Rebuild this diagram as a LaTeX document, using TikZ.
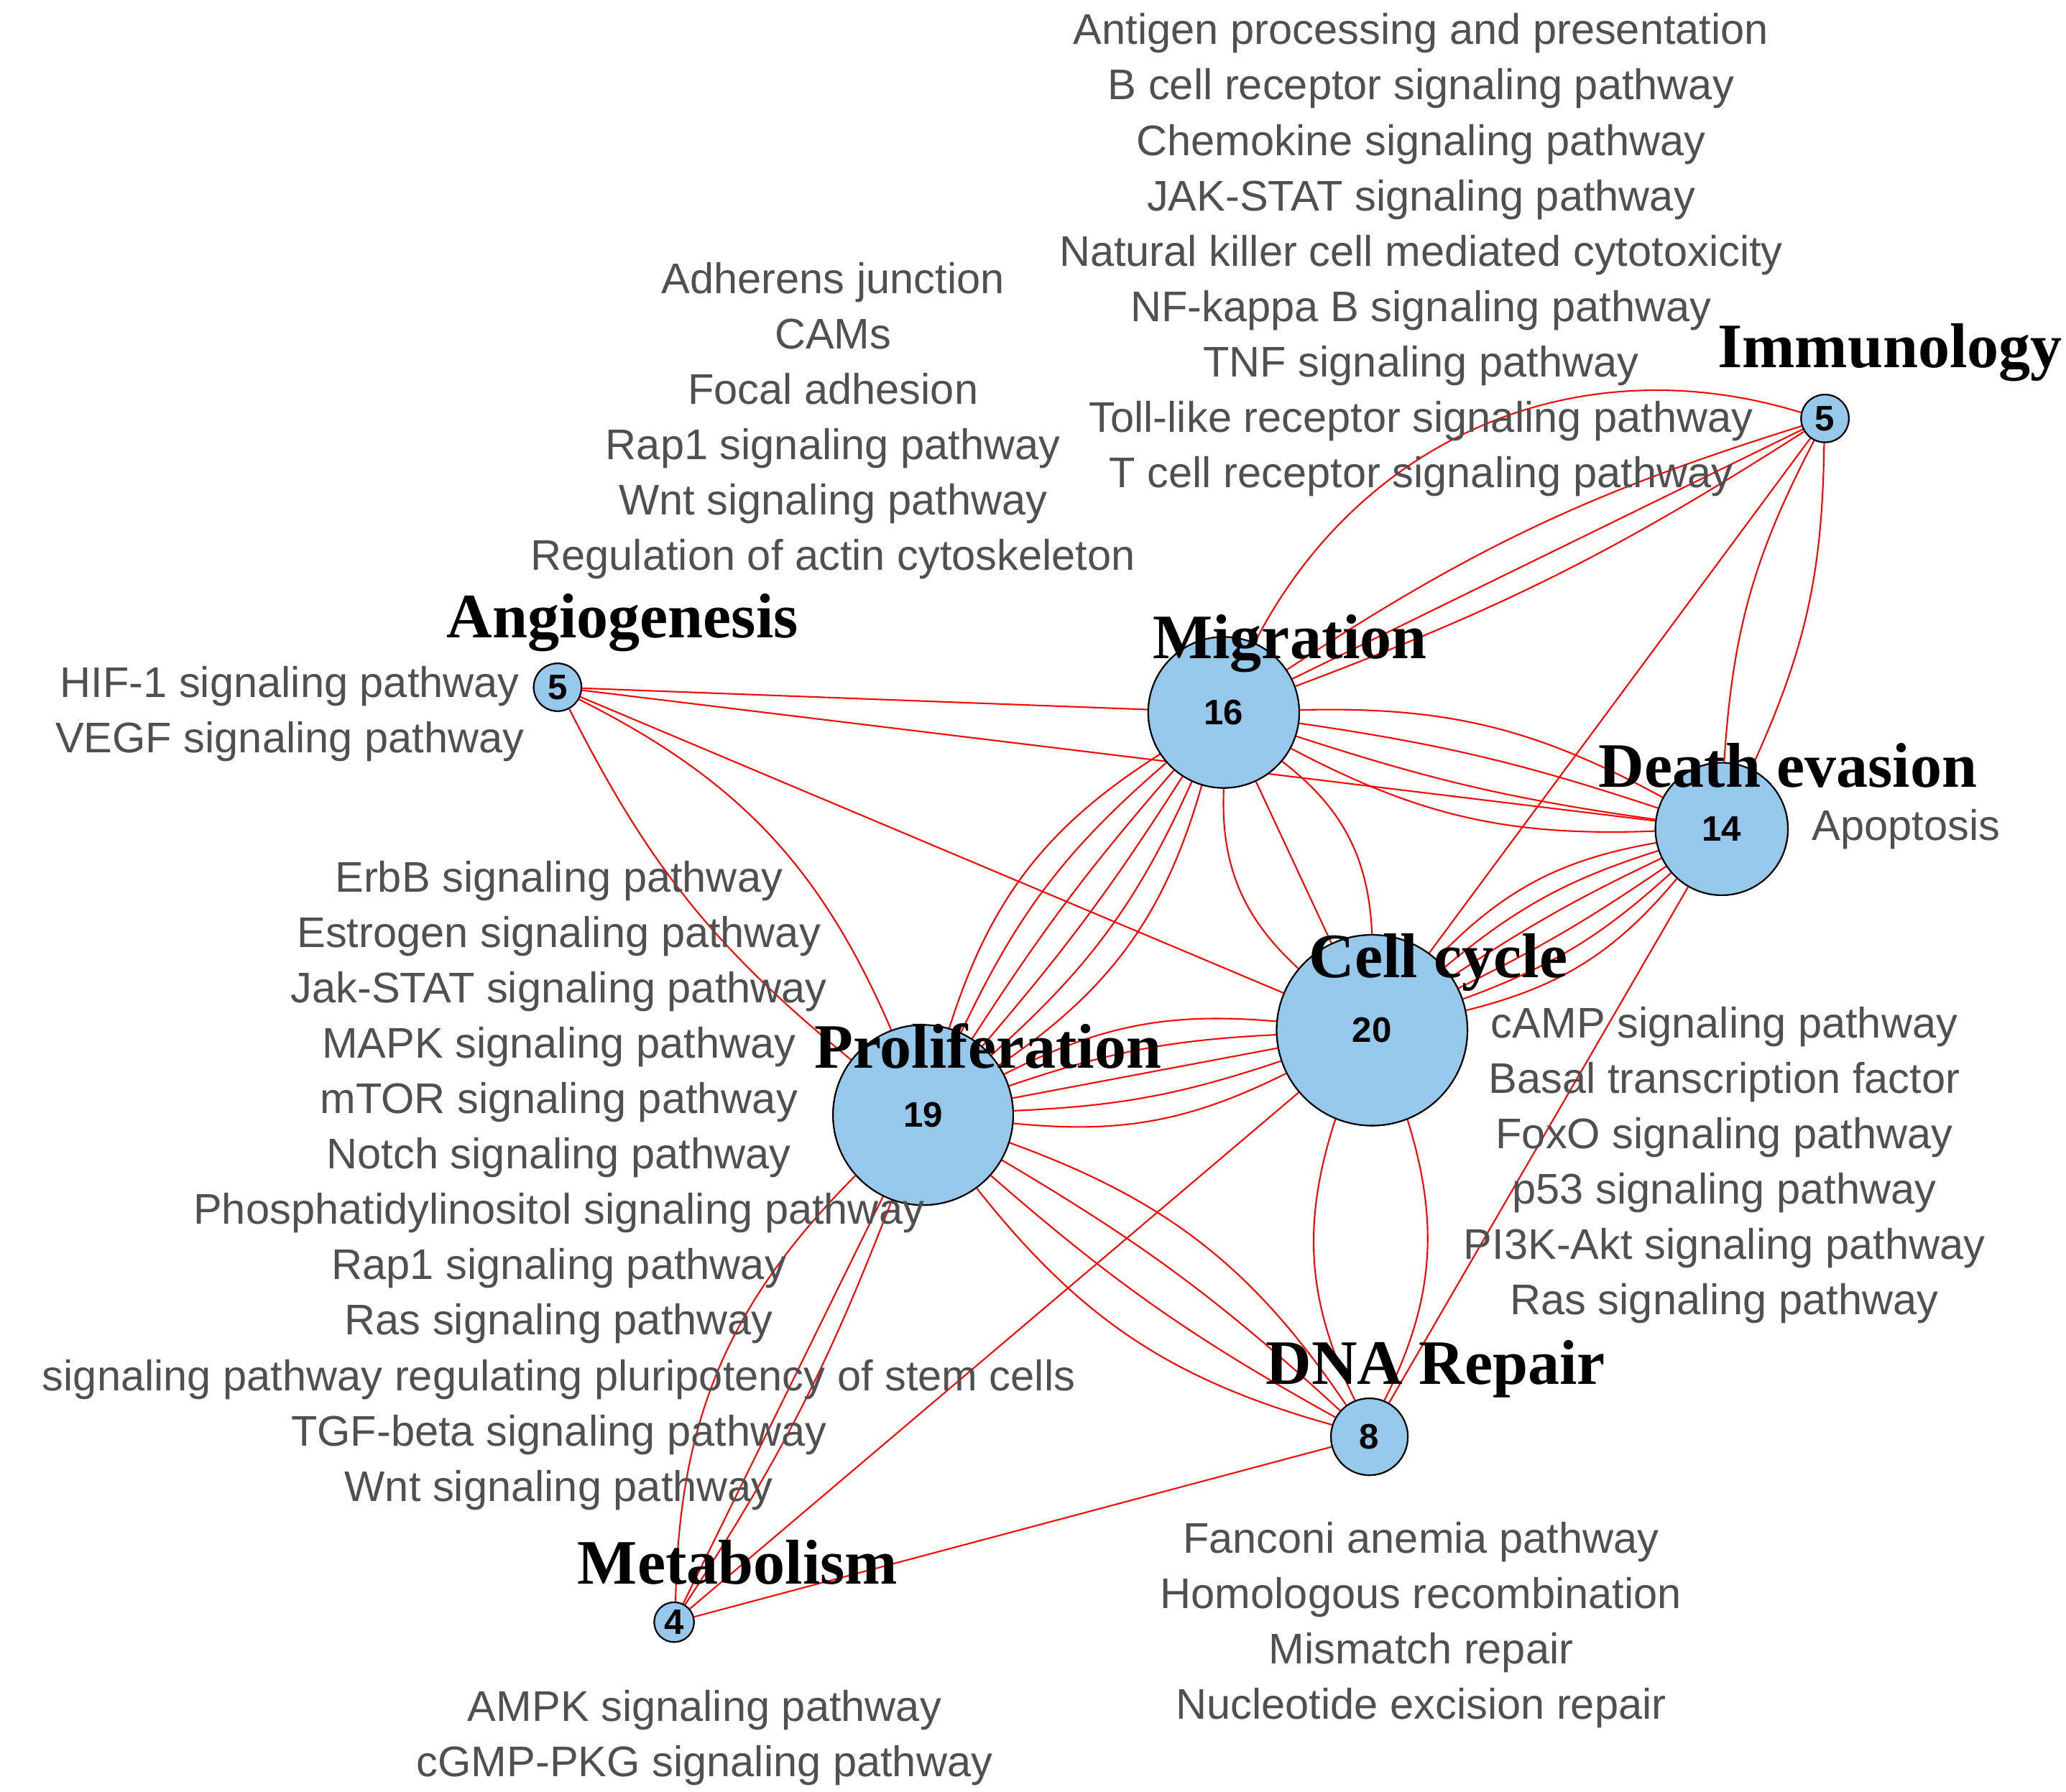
\documentclass[tikz,border=0pt]{standalone}
\usepackage{fontspec}
\setmainfont{Liberation Sans}
\newfontfamily\serifb{Liberation Serif}
\begin{document}
\begin{tikzpicture}[x=0.05cm,y=-0.05cm,
 nd/.style={circle,draw=black,line width=1.6pt,fill={rgb,255:red,150;green,200;blue,235},inner sep=0pt,font=\fontsize{38}{40}\selectfont\bfseries,minimum size=#1*0.05cm},
 ttl/.style={font=\serifb\fontsize{68}{70}\selectfont\bfseries},
 lab/.style={text={rgb,255:red,80;green,80;blue,80},font=\fontsize{46}{59.5}\selectfont,align=center,inner sep=0pt},
 e/.style={red,line width=1.6pt}]
\useasboundingbox (0,0) rectangle (1560,1353);
\node[nd=36] (im) at (1378,316) {};
\node[nd=36] (an) at (421,519) {};
\node[nd=114] (mi) at (924,538) {};
\node[nd=100] (de) at (1300,626) {};
\node[nd=144] (cc) at (1036,778) {};
\node[nd=136] (pr) at (697,842) {};
\node[nd=58] (dn) at (1034,1085) {};
\node[nd=30] (me) at (509,1225) {};
% edges
\draw[e] (im) to[bend right=40] (mi);
\foreach \b in {8,0,-6} \draw[e] (im) to[bend right=\b] (mi);
\draw[e] (im) to[bend right=12] (de);
\draw[e] (im) to[bend left=12] (de);
\draw[e] (im) -- (cc);
\draw[e] (an) -- (mi);
\draw[e] (an) -- (de);
\draw[e] (an) -- (cc);
\draw[e] (an) to[bend left=20] (pr);
\draw[e] (an) to[bend right=12] (pr);
\foreach \b in {-15,-5,5,15} \draw[e] (mi) to[bend left=\b] (de);
\foreach \b in {-25,0,25} \draw[e] (mi) to[bend left=\b] (cc);
\foreach \b in {-20,-12,-4,4,12,20} \draw[e] (mi) to[bend left=\b] (pr);
\foreach \b in {-18,-11,-4,4,11,18} \draw[e] (de) to[bend left=\b] (cc);
\draw[e] (de) -- (dn);
\foreach \b in {-16,-8,0,8,16} \draw[e] (cc) to[bend left=\b] (pr);
\draw[e] (cc) to[bend left=22] (dn);
\draw[e] (cc) to[bend right=22] (dn);
\draw[e] (cc) -- (me);
\foreach \b in {-18,-6,6,18} \draw[e] (pr) to[bend left=\b] (dn);
\draw[e] (pr) to[bend right=22] (me);
\draw[e] (pr) to[bend left=6] (me);
\draw[e] (pr) -- (me);
\draw[e] (dn) -- (me);
% redraw nodes on top
\node[nd=36] at (1378,316) {5};
\node[nd=36] at (421,519) {5};
\node[nd=114] at (924,538) {16};
\node[nd=100] at (1300,626) {14};
\node[nd=144] at (1036,778) {20};
\node[nd=136] at (697,842) {19};
\node[nd=58] at (1034,1085) {8};
\node[nd=30] at (509,1225) {4};
% titles
\node[ttl] (t1) at (1427,266) {Immunology};
\node[ttl] (t2) at (470,470) {Angiogenesis};
\node[ttl] (t3) at (974,486) {Migration};
\node[ttl] (t4) at (1350,578) {Death evasion};
\node[ttl] (t5) at (1086,727) {Cell cycle};
\node[ttl] (t6) at (746,790) {Proliferation};
\node[ttl] (t7) at (1084,1034) {DNA Repair};
\node[ttl] (t8) at (557,1180) {Metabolism};
% labels
\node[lab,anchor=north] (l1) at (1073,10) {Antigen processing and presentation\\B cell receptor signaling pathway\\Chemokine signaling pathway\\JAK-STAT signaling pathway\\Natural killer cell mediated cytotoxicity\\NF-kappa B signaling pathway\\TNF signaling pathway\\Toll-like receptor signaling pathway\\T cell receptor signaling pathway};
\node[lab,anchor=north] (l2) at (629,198) {Adherens junction\\CAMs\\Focal adhesion\\Rap1 signaling pathway\\Wnt signaling pathway\\Regulation of actin cytoskeleton};
\node[lab,anchor=north east] (l3) at (396,503) {HIF-1 signaling pathway\\VEGF signaling pathway};
\node[lab,anchor=west] (l4) at (1368,626) {Apoptosis};
\node[lab,anchor=north] (l5) at (1302,760) {cAMP signaling pathway\\Basal transcription factor\\FoxO signaling pathway\\p53 signaling pathway\\PI3K-Akt signaling pathway\\Ras signaling pathway};
\node[lab,anchor=north] (l6) at (422,650) {ErbB signaling pathway\\Estrogen signaling pathway\\Jak-STAT signaling pathway\\MAPK signaling pathway\\mTOR signaling pathway\\Notch signaling pathway\\Phosphatidylinositol signaling pathway\\Rap1 signaling pathway\\Ras signaling pathway\\signaling pathway regulating pluripotency of stem cells\\TGF-beta signaling pathway\\Wnt signaling pathway};
\node[lab,anchor=north] (l7) at (1073,1149) {Fanconi anemia pathway\\Homologous recombination\\Mismatch repair\\Nucleotide excision repair};
\node[lab,anchor=north] (l8) at (532,1276) {AMPK signaling pathway\\cGMP-PKG signaling pathway};
\end{tikzpicture}
\end{document}
